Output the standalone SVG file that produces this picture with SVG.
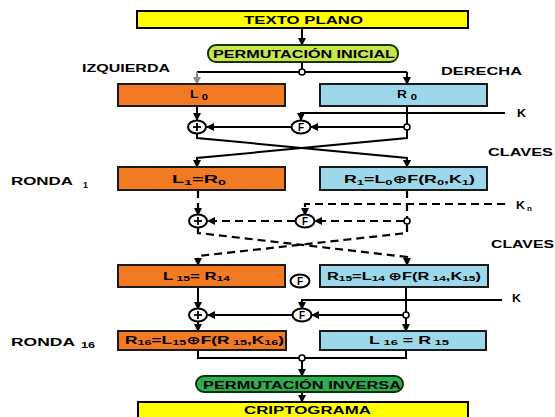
<svg xmlns="http://www.w3.org/2000/svg" width="555" height="417" viewBox="0 0 555 417">
  <defs>
    <marker id="arr" markerUnits="userSpaceOnUse" markerWidth="8" markerHeight="8" refX="7" refY="4" orient="auto">
      <path d="M0,0 L8,4 L0,8 z" fill="#000"/>
    </marker>
    <marker id="arrGray" markerUnits="userSpaceOnUse" markerWidth="8" markerHeight="8" refX="7" refY="4" orient="auto">
      <path d="M0,0 L8,4 L0,8 z" fill="#8a8a8a"/>
    </marker>
  </defs>
  <style>
    text { font-family: "Liberation Sans", Arial, "DejaVu Sans", sans-serif; font-weight: bold; fill: #000; }
    .t { font-size: 11px; }
    .bx { font-size: 11px; }
    .sub { font-size: 8px; }
    .rsub { font-size: 9px; }
    .yellow { fill: #ffff00; stroke: #000; stroke-width: 2; }
    .orange { fill: #f27a22; stroke: #1a1a1a; stroke-width: 2; }
    .blue { fill: #9dd8ea; stroke: #1a1a1a; stroke-width: 2; }
    .pill1 { fill: #c6e64a; stroke: #173300; stroke-width: 2; }
    .pill2 { fill: #2fae4e; stroke: #0b3312; stroke-width: 2; }
    .ln { fill: none; stroke: #000; stroke-width: 2; }
    .dash { fill: none; stroke: #000; stroke-width: 2.2; stroke-dasharray: 8 5; }
    .a { marker-end: url(#arr); }
    .jn { fill: #fff; stroke: #000; stroke-width: 1.6; }
    .op { fill: #fff; stroke: #000; stroke-width: 2; }
    .plus { stroke: #000; stroke-width: 1.8; }
    .f { font-size: 10px; text-anchor: middle; }
  </style>

  <!-- side labels -->
  <g id="labels">
    <text class="t" x="82" y="72" textLength="88" lengthAdjust="spacingAndGlyphs">IZQUIERDA</text>
    <text class="t" x="441" y="75" textLength="81" lengthAdjust="spacingAndGlyphs">DERECHA</text>
    <text class="t" x="517" y="117" textLength="9" lengthAdjust="spacingAndGlyphs">K</text>
    <text class="t" x="488" y="156" textLength="65" lengthAdjust="spacingAndGlyphs">CLAVES</text>
    <text class="t" x="11" y="185" textLength="62" lengthAdjust="spacingAndGlyphs">RONDA</text>
    <text class="rsub" x="83" y="188" textLength="5" lengthAdjust="spacingAndGlyphs">1</text>
    <text class="t" x="516" y="209" textLength="9" lengthAdjust="spacingAndGlyphs">K</text>
    <text class="sub" x="527" y="211">n</text>
    <text class="t" x="491" y="248" textLength="63" lengthAdjust="spacingAndGlyphs">CLAVES</text>
    <text class="t" x="512" y="302" textLength="9" lengthAdjust="spacingAndGlyphs">K</text>
    <text class="t" x="11" y="346" textLength="64" lengthAdjust="spacingAndGlyphs">RONDA</text>
    <text class="rsub" x="81" y="348" textLength="14" lengthAdjust="spacingAndGlyphs">16</text>
  </g>

  <!-- connectors -->
  <g id="connectors">
    <!-- input and initial permutation -->
    <line class="ln a" x1="302" y1="28" x2="302" y2="45"/>
    <line class="ln" x1="302" y1="62" x2="302" y2="69"/>
    <polyline class="ln" points="197,72 407,72"/>
    <line x1="197" y1="72" x2="197" y2="84" stroke="#8a8a8a" stroke-width="2" marker-end="url(#arrGray)"/>
    <line class="ln a" x1="407" y1="72" x2="407" y2="84"/>

    <!-- round 1 -->
    <line class="ln a" x1="197" y1="106" x2="197" y2="120"/>
    <line class="ln" x1="407" y1="106" x2="407" y2="124"/>
    <polyline class="ln a" points="505,113 301,113 301,120"/>
    <line class="ln a" x1="404" y1="127" x2="311" y2="127"/>
    <line class="ln a" x1="291" y1="127" x2="207" y2="127"/>
    <polyline class="ln a" points="197,133 197,138 407,158 407,167"/>
    <polyline class="ln a" points="407,130 407,138 197,158 197,167"/>

    <!-- intermediate rounds -->
    <line class="dash a" x1="198" y1="190" x2="198" y2="215"/>
    <line class="dash" x1="407" y1="190" x2="407" y2="218"/>
    <polyline class="dash a" points="505,204 305,204 305,215"/>
    <line class="dash a" x1="404" y1="221" x2="315" y2="221"/>
    <line class="dash a" x1="295" y1="221" x2="208" y2="221"/>
    <polyline class="dash a" points="198,228 198,233 207,234 407,257 407,265"/>
    <polyline class="dash a" points="407,224 407,233 398,234 198,256 198,265"/>

    <!-- round 16 -->
    <line class="ln a" x1="198" y1="287" x2="198" y2="309"/>
    <line class="ln a" x1="406" y1="287" x2="406" y2="331"/>
    <polyline class="ln a" points="502,300 302,300 302,309"/>
    <line class="ln a" x1="403" y1="315" x2="312" y2="315"/>
    <line class="ln a" x1="292" y1="315" x2="208" y2="315"/>
    <line class="ln a" x1="198" y1="321" x2="198" y2="331"/>

    <!-- final swap and inverse permutation -->
    <polyline class="ln" points="198,350 198,358 406,358 406,350"/>
    <line class="ln a" x1="302" y1="361" x2="302" y2="376"/>
    <line class="ln a" x1="302" y1="392" x2="302" y2="402"/>
  </g>

  <!-- junction dots -->
  <g id="junctions">
    <circle class="jn" cx="302" cy="72" r="3"/>
    <circle class="jn" cx="407" cy="127" r="3"/>
    <circle class="jn" cx="407" cy="221" r="3"/>
    <circle class="jn" cx="406" cy="315" r="3"/>
    <circle class="jn" cx="302" cy="358" r="3"/>
  </g>

  <g id="texto-plano">
    <rect class="yellow" x="137" y="11" width="331" height="17"/>
    <text class="t" x="244" y="24" textLength="119" lengthAdjust="spacingAndGlyphs">TEXTO PLANO</text>
  </g>

  <g id="permutacion-inicial">
    <rect class="pill1" x="208" y="45" width="190" height="17" rx="8"/>
    <text class="t" x="213" y="58" textLength="182" lengthAdjust="spacingAndGlyphs">PERMUTACIÓN INICIAL</text>
  </g>

  <g id="L0">
    <rect class="orange" x="118" y="84" width="167" height="22"/>
    <text class="bx" x="190" y="98" textLength="18" lengthAdjust="spacingAndGlyphs">L <tspan class="rsub" dy="2">0</tspan></text>
  </g>
  <g id="R0">
    <rect class="blue" x="320" y="84" width="167" height="22"/>
    <text class="bx" x="397" y="98" textLength="20" lengthAdjust="spacingAndGlyphs">R <tspan class="rsub" dy="2">0</tspan></text>
  </g>

  <g id="xor1">
    <ellipse class="op" cx="197" cy="127" rx="9" ry="6.5"/>
    <line class="plus" x1="193" y1="127" x2="201" y2="127"/>
    <line class="plus" x1="197" y1="123" x2="197" y2="131"/>
  </g>
  <g id="f1">
    <ellipse class="op" cx="301" cy="127" rx="9.5" ry="6.5"/>
    <text class="f" x="301" y="131">F</text>
  </g>

  <g id="L1">
    <rect class="orange" x="118" y="167" width="167" height="23"/>
    <text class="bx" x="172" y="183" textLength="54" lengthAdjust="spacingAndGlyphs">L<tspan class="sub" dy="2">1</tspan><tspan dy="-2">=R</tspan><tspan class="sub" dy="2">0</tspan></text>
  </g>
  <g id="R1">
    <rect class="blue" x="320" y="167" width="167" height="23"/>
    <text class="bx" x="344" y="183" textLength="131" lengthAdjust="spacingAndGlyphs">R<tspan class="sub" dy="2">1</tspan><tspan dy="-2">=L</tspan><tspan class="sub" dy="2">0</tspan><tspan dy="-2">⊕F(R</tspan><tspan class="sub" dy="2">0</tspan><tspan dy="-2">,K</tspan><tspan class="sub" dy="2">1</tspan><tspan dy="-2">)</tspan></text>
  </g>

  <g id="xor-n">
    <ellipse class="op" cx="198" cy="221" rx="9" ry="6.5"/>
    <line class="plus" x1="194" y1="221" x2="202" y2="221"/>
    <line class="plus" x1="198" y1="217" x2="198" y2="225"/>
  </g>
  <g id="f-n">
    <ellipse class="op" cx="305" cy="221" rx="9.5" ry="6.5"/>
    <text class="f" x="305" y="225">F</text>
  </g>

  <g id="L15">
    <rect class="orange" x="118" y="265" width="167" height="22"/>
    <text class="bx" x="163" y="280" textLength="67" lengthAdjust="spacingAndGlyphs">L<tspan class="sub" dy="1"> 15</tspan><tspan dy="-1">= R</tspan><tspan class="sub" dy="1">14</tspan></text>
  </g>
  <g id="f-mid">
    <ellipse class="op" cx="300" cy="281" rx="9.5" ry="6.5"/>
    <text class="f" x="300" y="285">F</text>
  </g>
  <g id="R15">
    <rect class="blue" x="320" y="265" width="168" height="22"/>
    <text class="bx" x="327" y="280" textLength="154" lengthAdjust="spacingAndGlyphs">R<tspan class="sub" dy="1">15</tspan><tspan dy="-1">=L</tspan><tspan class="sub" dy="1">14 </tspan><tspan dy="-1">⊕F(R</tspan><tspan class="sub" dy="1"> 14</tspan><tspan dy="-1">,K</tspan><tspan class="sub" dy="1">15</tspan><tspan dy="-1">)</tspan></text>
  </g>

  <g id="xor16">
    <ellipse class="op" cx="198" cy="315" rx="9" ry="6.5"/>
    <line class="plus" x1="194" y1="315" x2="202" y2="315"/>
    <line class="plus" x1="198" y1="311" x2="198" y2="319"/>
  </g>
  <g id="f16">
    <ellipse class="op" cx="302" cy="315" rx="9.5" ry="6.5"/>
    <text class="f" x="302" y="319">F</text>
  </g>

  <g id="R16">
    <rect class="orange" x="118" y="331" width="168" height="19"/>
    <text class="bx" x="125" y="344" textLength="159" lengthAdjust="spacingAndGlyphs">R<tspan class="sub" dy="1">16</tspan><tspan dy="-1">=L</tspan><tspan class="sub" dy="1">15</tspan><tspan dy="-1">⊕F(R</tspan><tspan class="sub" dy="1"> 15</tspan><tspan dy="-1">,K</tspan><tspan class="sub" dy="1">16</tspan><tspan dy="-1">)</tspan></text>
  </g>
  <g id="L16">
    <rect class="blue" x="320" y="331" width="166" height="19"/>
    <text class="bx" x="369" y="344" textLength="80" lengthAdjust="spacingAndGlyphs">L<tspan class="sub" dy="1"> 16</tspan><tspan dy="-1"> =  R</tspan><tspan class="sub" dy="1"> 15</tspan></text>
  </g>

  <g id="permutacion-inversa">
    <rect class="pill2" x="196" y="376" width="207" height="16" rx="8"/>
    <text class="t" x="203" y="388.5" textLength="198" lengthAdjust="spacingAndGlyphs">PERMUTACIÓN INVERSA</text>
  </g>

  <g id="criptograma">
    <rect class="yellow" x="138" y="402" width="330" height="18"/>
    <text class="t" x="244" y="413.5" textLength="127" lengthAdjust="spacingAndGlyphs">CRIPTOGRAMA</text>
  </g>
</svg>
